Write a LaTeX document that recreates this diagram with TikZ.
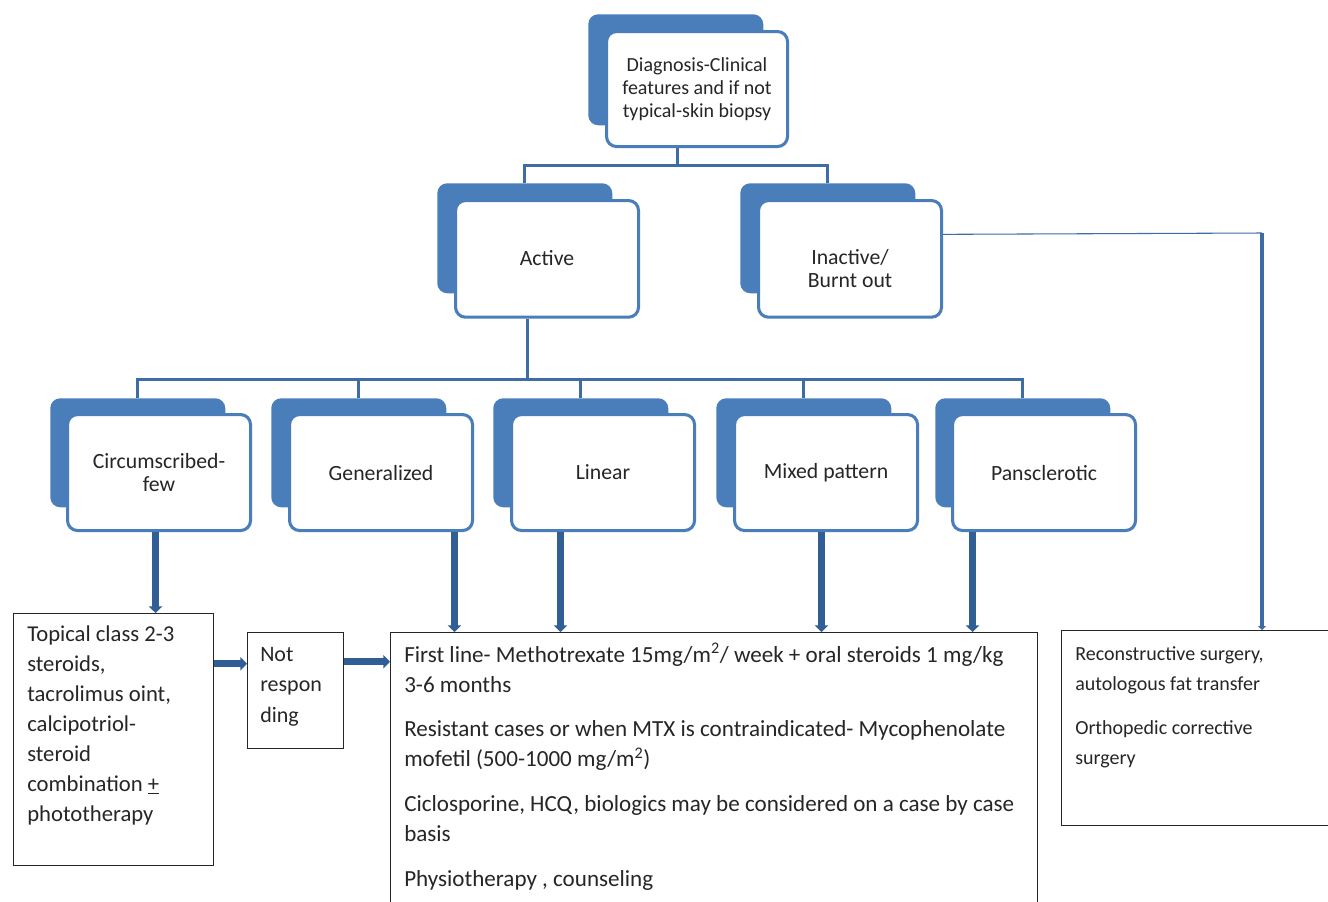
\documentclass[tikz,border=0pt]{standalone}
\usepackage{fontspec}
\setmainfont{Carlito}
\usetikzlibrary{arrows.meta,calc}
\definecolor{boxblue}{RGB}{74,126,187}
\definecolor{connblue}{RGB}{62,108,165}
\definecolor{arrblue}{RGB}{50,94,150}
\begin{document}
\begin{tikzpicture}[x=0.75pt,y=-0.75pt,
  back/.style={fill=boxblue, rounded corners=7.5pt, anchor=north west, inner sep=0pt,
    minimum width=131.25pt, minimum height=82.5pt},
  front/.style={fill=white, draw=boxblue, line width=2.3pt, rounded corners=7.5pt,
    anchor=north west, inner sep=2pt, minimum width=137.25pt, minimum height=87.5pt,
    align=center, font=\fontsize{16.3}{17.5}\selectfont, text=black!85},
  lbl/.style={align=center, inner sep=0pt, font=\fontsize{16.3}{17.5}\selectfont, text=black!85},
  rect/.style={draw=black!85, line width=1.1pt, anchor=north west, inner sep=0pt},
  body/.style={anchor=north west, inner sep=0pt, align=left, text=black!85},
  conn/.style={draw=connblue, line width=2.3pt},
  arr/.style={draw=arrblue, line width=5pt, -{Triangle[width=10pt,length=5pt]}},
  thinln/.style={draw=connblue, line width=0.8pt},
  medarr/.style={draw=connblue, line width=3pt, -{Triangle[width=6pt,length=3pt]}}
]
\useasboundingbox (0,0) rectangle (1328,901);
\clip (0,0) rectangle (1328,901);
\fill[white] (0,0) rectangle (1328,901);

% top box
\node[back, minimum width=131.25pt, minimum height=83.25pt] (dback) at (588,14) {};
\node[front, minimum width=135.75pt, minimum height=86.25pt, font=\fontsize{15}{17}\selectfont] (diag) at (605,30)
  {Diagnosis-Clinical\\features and if not\\typical-skin biopsy};

% second level
\node[back] (aback) at (437,183) {};
\node[front] (active) at (454,199) {\raisebox{1.5pt}{Active}};
\node[back] (iback) at (740,183) {};
\node[front] (inactive) at (757,199) {};
\node[lbl] (inactivetext) at ([yshift=-7pt]inactive.center) {Inactive/\\Burnt out};

% third level
\foreach \n/\bx/\fx/\t in {c/50/66/{Circumscribed-\\few}, g/271/288/Generalized, l/493/510/Linear,
  m/716/733/Mixed pattern, p/935/951/Pansclerotic}{
  \node[back, minimum height=81.75pt] (\n back) at (\bx,398) {};
  \node[front, minimum height=87pt] (\n box) at (\fx,413) {\t};
}

% connectors top
\draw[conn] ([xshift=-14.6pt]diag.south) -- ++(0,17) coordinate (j1);
\draw[conn] (aback.north) |- (j1) -| (iback.north);
\draw[conn] ([xshift=-14.6pt]active.south) -- ++(0,61) coordinate (j2);
\draw[conn] (cback.north) |- (j2) -| (pback.north);
\draw[conn] (gback.north) -- (gback.north |- j2);
\draw[conn] (lback.north) -- (lback.north |- j2);
\draw[conn] (mback.north) -- (mback.north |- j2);

% bottom boxes
\node[rect, minimum width=150pt, minimum height=189pt] (topical) at (13,613) {};
\node[body, font=\fontsize{17}{22.5}\selectfont] (ttext) at (27,625)
  {Topical class 2-3\\steroids,\\tacrolimus oint,\\calcipotriol-\\steroid\\combination \underline{+}\\phototherapy};
\node[rect, minimum width=72pt, minimum height=87pt] (notresp) at (247,632) {};
\node[body, font=\fontsize{16.5}{22.8}\selectfont] (ntext) at (260,647) {Not\\respon\\ding};
\node[rect, minimum width=485.25pt, minimum height=210pt] (big) at (390,632) {};
\node[body, font=\fontsize{17.3}{22.5}\selectfont] (btext) at (404,643)
  {First line- Methotrexate 15mg/m\textsuperscript{2}/ week + oral steroids 1 mg/kg\\3-6 months\\[11pt]
   Resistant cases or when MTX is contraindicated- Mycophenolate\\mofetil (500-1000 mg/m\textsuperscript{2})\\[11pt]
   Ciclosporine, HCQ, biologics may be considered on a case by case\\basis\\[11.5pt]
   Physiotherapy , counseling};
\node[rect, minimum width=210pt, minimum height=146.25pt] (recon) at (1061,630) {};
\node[body, font=\fontsize{15}{22.5}\selectfont] (rtext) at (1075,646)
  {Reconstructive surgery,\\autologous fat transfer\\[11pt]Orthopedic corrective\\surgery};

% thick arrows
\draw[arr] ([xshift=-2.6pt]cbox.south) -- ([xshift=-2.6pt]cbox.south |- topical.north);
\draw[arr] ([xshift=55.1pt]gbox.south) -- ([xshift=55.1pt]gbox.south |- big.north);
\draw[arr] ([xshift=-31.9pt]lbox.south) -- ([xshift=-31.9pt]lbox.south |- big.north);
\draw[arr] ([xshift=-3.4pt]mbox.south) -- ([xshift=-3.4pt]mbox.south |- big.north);
\draw[arr] ([xshift=-53.6pt]pbox.south) -- ([xshift=-53.6pt]pbox.south |- big.north);
\draw[arr] ([yshift=57pt]topical.east) -- ([yshift=57pt]topical.east -| notresp.west);
\draw[arr] ([yshift=21.75pt]notresp.east) -- ([yshift=21.75pt]notresp.east -| big.west);

% inactive to reconstructive
\coordinate (corner) at (1262,233);
\draw[thinln] ([yshift=18.4pt]inactive.east) -- (corner);
\draw[medarr] (corner) -- (corner |- recon.north);
\end{tikzpicture}
\end{document}
